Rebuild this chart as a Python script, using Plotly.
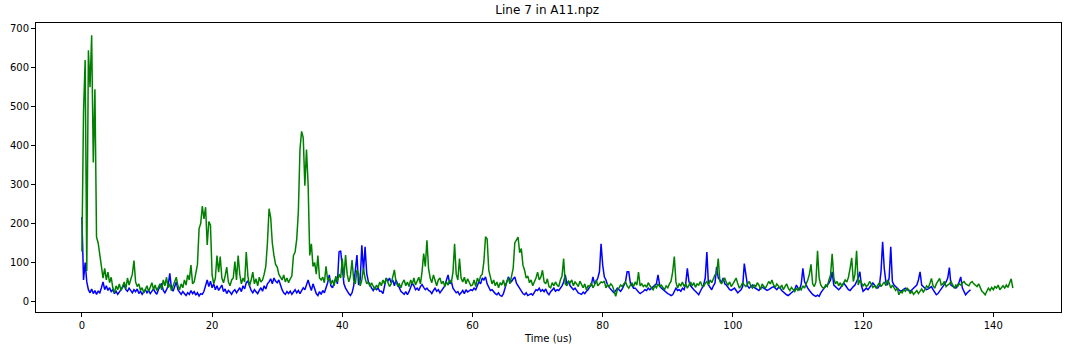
import plotly.graph_objects as go

DT = 0.25

# Green series, one list per 10 us block, samples every 0.25 us
green_rows = [
    [128, 485, 620, 78, 645, 550, 684, 357, 545, 165, 150, 120, 85, 60, 85, 55, 75, 48, 62, 35,
     22, 40, 30, 45, 28, 38, 50, 32, 60, 42, 55, 70, 105, 50, 38, 45, 28, 35, 22, 30],
    [40, 25, 35, 48, 30, 42, 28, 36, 45, 30, 55, 40, 62, 35, 45, 28, 38, 50, 62, 40,
     30, 45, 35, 55, 42, 68, 55, 93, 45, 50, 70, 95, 187, 200, 245, 212, 242, 145, 205, 196],
    [68, 45, 60, 118, 75, 115, 60, 48, 65, 88, 50, 40, 55, 60, 102, 55, 118, 70, 45, 60,
     50, 127, 65, 40, 55, 75, 45, 58, 40, 62, 50, 55, 70, 90, 150, 238, 215, 150, 118, 95],
    [88, 70, 62, 55, 68, 50, 60, 48, 58, 65, 118, 127, 160, 230, 391, 437, 420, 297, 390, 300,
     118, 148, 90, 100, 70, 118, 60, 55, 62, 48, 90, 55, 60, 45, 55, 40, 65, 50, 70, 60],
    [110, 60, 119, 70, 50, 65, 106, 55, 45, 81, 72, 40, 55, 85, 60, 45, 50, 38, 48, 38,
     30, 42, 35, 50, 40, 55, 45, 60, 50, 38, 45, 62, 81, 50, 40, 45, 35, 48, 55, 40],
    [50, 38, 55, 45, 60, 42, 50, 62, 45, 76, 123, 90, 157, 85, 60, 48, 68, 50, 40, 55,
     60, 45, 52, 38, 50, 42, 55, 48, 75, 148, 70, 55, 110, 60, 50, 62, 45, 58, 48, 40],
    [42, 55, 38, 60, 50, 65, 70, 102, 166, 160, 80, 60, 45, 55, 40, 50, 35, 48, 42, 55,
     38, 50, 60, 45, 68, 85, 150, 158, 165, 125, 136, 93, 80, 60, 65, 48, 55, 40, 50, 60],
    [75, 55, 62, 80, 50, 45, 58, 38, 35, 48, 40, 50, 42, 38, 55, 65, 110, 45, 40, 52,
     48, 55, 40, 50, 45, 38, 52, 42, 35, 45, 30, 40, 38, 48, 35, 42, 55, 40, 45, 50],
    [48, 52, 35, 42, 38, 45, 40, 25, 13, 30, 34, 42, 38, 45, 50, 40, 34, 42, 48, 38,
     50, 42, 75, 40, 45, 38, 42, 36, 48, 40, 34, 30, 40, 35, 45, 38, 42, 36, 30, 40],
    [35, 45, 52, 76, 115, 50, 34, 45, 40, 50, 38, 45, 34, 42, 50, 40, 48, 36, 45, 42,
     51, 40, 38, 46, 51, 42, 55, 48, 60, 68, 72, 110, 51, 45, 55, 59, 48, 42, 50, 38],
    [45, 51, 60, 45, 34, 40, 48, 42, 38, 45, 51, 40, 34, 42, 38, 48, 42, 30, 45, 38,
     34, 42, 51, 45, 55, 42, 36, 45, 38, 34, 42, 30, 38, 45, 34, 28, 36, 30, 25, 34],
    [28, 35, 30, 40, 34, 45, 55, 70, 95, 45, 38, 50, 130, 60, 42, 36, 34, 42, 38, 55,
     68, 122, 60, 45, 51, 40, 48, 38, 45, 55, 50, 62, 85, 112, 51, 70, 130, 42, 55, 48],
    [40, 45, 38, 42, 51, 45, 36, 40, 34, 42, 48, 38, 45, 50, 40, 55, 48, 34, 42, 34,
     28, 34, 17, 25, 22, 30, 26, 34, 30, 20, 26, 18, 22, 28, 20, 26, 32, 24, 30, 40],
    [35, 45, 59, 40, 34, 45, 51, 59, 42, 45, 51, 38, 42, 45, 51, 40, 34, 42, 38, 45,
     42, 48, 51, 45, 42, 40, 48, 51, 45, 42, 38, 45, 34, 26, 22, 17, 26, 34, 28, 36],
    [30, 38, 34, 42, 30, 36, 40, 34, 42, 36, 45, 58, 34],
]

# Blue series, one list per 10 us block, samples every 0.25 us
blue_rows = [
    [217, 55, 100, 50, 30, 22, 32, 20, 28, 18, 26, 22, 35, 50, 30, 40, 28, 35, 25, 30,
     20, 26, 18, 24, 30, 35, 42, 30, 26, 34, 28, 22, 30, 25, 32, 20, 26, 18, 24, 30],
    [22, 28, 20, 26, 32, 24, 18, 30, 38, 46, 28, 22, 30, 40, 72, 35, 26, 38, 50, 30,
     22, 18, 25, 20, 15, 22, 18, 28, 20, 25, 16, 22, 14, 20, 18, 26, 42, 55, 38, 52],
    [35, 45, 30, 40, 28, 35, 42, 25, 32, 20, 28, 24, 18, 26, 30, 22, 28, 35, 25, 40,
     32, 48, 52, 38, 28, 22, 30, 25, 20, 28, 35, 26, 40, 32, 45, 50, 58, 45, 60, 52],
    [48, 55, 40, 30, 22, 18, 25, 20, 26, 18, 24, 30, 22, 28, 20, 26, 35, 30, 42, 55,
     40, 28, 45, 30, 20, 15, 25, 18, 28, 22, 35, 48, 68, 40, 35, 50, 60, 45, 127, 130],
    [76, 45, 34, 25, 20, 15, 22, 40, 76, 119, 42, 55, 144, 76, 140, 72, 51, 40, 34, 28,
     36, 30, 34, 26, 26, 20, 40, 60, 52, 60, 48, 55, 40, 55, 45, 34, 26, 22, 18, 25],
    [17, 25, 35, 47, 40, 30, 34, 28, 38, 43, 36, 30, 34, 28, 26, 20, 28, 34, 26, 30,
     22, 28, 34, 40, 55, 68, 45, 51, 34, 28, 22, 25, 17, 22, 28, 20, 30, 24, 26, 30],
    [28, 34, 30, 42, 51, 45, 60, 55, 63, 45, 34, 28, 30, 24, 20, 17, 22, 15, 13, 20,
     34, 45, 63, 55, 51, 58, 63, 47, 40, 34, 26, 20, 17, 22, 15, 18, 20, 16, 25, 30],
    [28, 34, 26, 30, 25, 32, 22, 17, 25, 30, 34, 26, 30, 28, 34, 40, 50, 68, 45, 51,
     40, 34, 30, 34, 26, 22, 20, 18, 24, 20, 26, 30, 38, 42, 63, 45, 51, 60, 76, 148],
    [93, 63, 55, 42, 36, 30, 26, 22, 30, 34, 30, 26, 32, 42, 50, 76, 76, 47, 40, 34,
     34, 28, 24, 20, 22, 26, 30, 28, 34, 30, 34, 38, 42, 45, 68, 42, 34, 30, 26, 22],
    [20, 18, 15, 17, 25, 34, 28, 30, 26, 34, 30, 45, 85, 51, 40, 34, 30, 26, 20, 17,
     26, 34, 42, 60, 127, 42, 34, 30, 40, 47, 88, 60, 55, 48, 60, 45, 42, 36, 30, 28],
    [30, 34, 28, 22, 26, 30, 38, 97, 68, 40, 34, 38, 42, 36, 34, 30, 28, 34, 36, 34,
     30, 28, 30, 34, 36, 38, 34, 30, 36, 34, 28, 24, 20, 17, 15, 18, 22, 26, 30, 42],
    [34, 30, 45, 85, 51, 40, 34, 28, 22, 18, 15, 13, 16, 13, 22, 30, 34, 38, 42, 47,
     55, 76, 42, 38, 34, 30, 34, 40, 47, 42, 34, 30, 28, 34, 38, 42, 50, 60, 76, 40],
    [26, 30, 34, 30, 36, 40, 47, 42, 36, 34, 40, 76, 153, 85, 50, 42, 60, 140, 51, 42,
     38, 34, 30, 26, 28, 30, 34, 30, 28, 26, 30, 34, 40, 42, 55, 76, 42, 38, 34, 30],
    [32, 36, 38, 30, 22, 17, 20, 26, 30, 36, 42, 50, 60, 87, 42, 38, 36, 34, 40, 50,
     63, 34, 26, 17, 22, 26, 30],
]


def flatten(rows):
    t, v = [], []
    for k, row in enumerate(rows):
        for i, val in enumerate(row):
            t.append(10 * k + DT * i)
            v.append(val)
    return t, v


tb, vb = flatten(blue_rows)
tg, vg = flatten(green_rows)

x_tickvals = [0, 20, 40, 60, 80, 100, 120, 140]
y_tickvals = [0, 100, 200, 300, 400, 500, 600, 700]

fig = go.Figure()
fig.add_trace(go.Scatter(x=tb, y=vb, mode="lines",
                         line=dict(color="#0000ff", width=1.5), showlegend=False))
fig.add_trace(go.Scatter(x=tg, y=vg, mode="lines",
                         line=dict(color="#008000", width=1.5), showlegend=False))

axis_common = dict(showline=True, mirror=True, linecolor="black", linewidth=1,
                   ticks="outside", ticklen=4, tickcolor="black", tickwidth=1,
                   showgrid=False, zeroline=False,
                   tickfont=dict(family="DejaVu Sans", size=10, color="black"))

fig.update_layout(
    width=1072, height=352,
    margin=dict(l=33, r=10, t=23, b=38),
    paper_bgcolor="white", plot_bgcolor="white",
    title=dict(text="Line 7 in A11.npz", x=0.5105, xanchor="center", y=0.972, yanchor="middle",
               font=dict(family="DejaVu Sans", size=12, color="black")),
    xaxis=dict(range=[-7.05, 150.4], tickvals=x_tickvals,
               title=dict(text="Time (us)", standoff=4,
                          font=dict(family="DejaVu Sans", size=10, color="black")),
               **axis_common),
    yaxis=dict(range=[-27.3, 715.3], tickvals=y_tickvals, **axis_common),
)

fig.write_html("out.html")
